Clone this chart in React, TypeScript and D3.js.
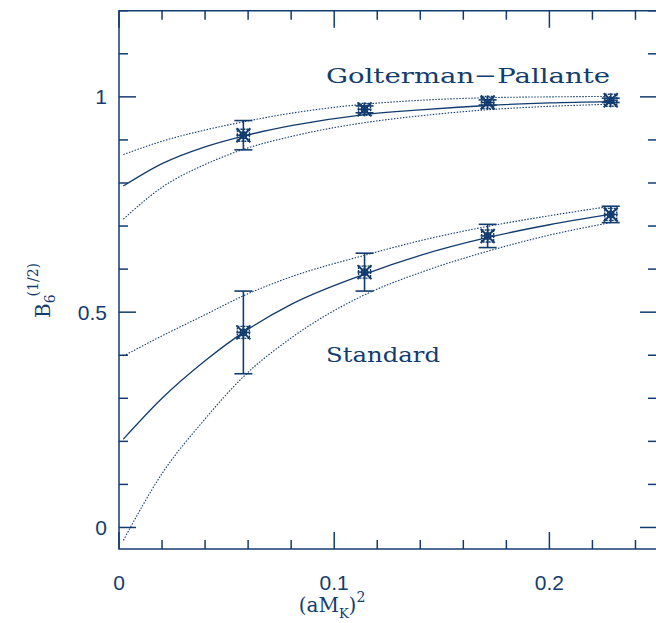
import React from "react";
import * as d3 from "d3";

const C = "#123c6e";

// data points: (aM_K)^2
const xPts = [0.0578, 0.1141, 0.1713, 0.2285];
const gpVal = [0.911, 0.971, 0.987, 0.992];
const gpErr = [0.034, 0.008, 0.006, 0.005];
const stVal = [0.453, 0.593, 0.677, 0.727];
const stErr = [0.096, 0.044, 0.027, 0.019];

// fitted curves
const curveX = [0.002, 0.02, 0.04, 0.0578, 0.08, 0.114, 0.14, 0.171, 0.2, 0.2285];
const gpFit = [0.793, 0.845, 0.884, 0.909, 0.933, 0.959, 0.97, 0.98, 0.986, 0.989];
const gpUp = [0.866, 0.897, 0.923, 0.942, 0.962, 0.983, 0.992, 0.998, 1.0, 1.001];
const gpLo = [0.716, 0.79, 0.843, 0.878, 0.908, 0.94, 0.956, 0.97, 0.978, 0.983];
const stFit = [0.205, 0.3, 0.387, 0.453, 0.518, 0.588, 0.632, 0.673, 0.703, 0.727];
const stUp = [0.398, 0.445, 0.494, 0.538, 0.582, 0.632, 0.666, 0.699, 0.724, 0.746];
const stLo = [-0.03, 0.125, 0.252, 0.35, 0.44, 0.54, 0.592, 0.641, 0.679, 0.708];

const xMajor = [0, 0.1, 0.2];
const xMinor = d3.range(0, 0.2501, 0.02);
const yMajor = [0, 0.5, 1];
const yMinor = d3.range(0, 1.2001, 0.1);

export default function App() {
  const W = 656, H = 623;
  const x = d3.scaleLinear().domain([0, 0.25]).range([119, 657]);
  const y = d3.scaleLinear().domain([-0.05, 1.2]).range([549, 10.75]);
  const line = d3
    .line<[number, number]>()
    .x((d) => x(d[0]))
    .y((d) => y(d[1]))
    .curve(d3.curveMonotoneX);
  const mk = (vals: number[]) => line(curveX.map((cx, i) => [cx, vals[i]] as [number, number])) || "";

  const x0 = x(0), x1 = x(0.25), y0 = y(-0.05), y1 = y(1.2);
  const isMajX = (v: number) => xMajor.some((m) => Math.abs(m - v) < 1e-6);
  const isMajY = (v: number) => yMajor.some((m) => Math.abs(m - v) < 1e-6);

  const marker = (cx: number, cy: number, key: string) => {
    const r = 7;
    return (
      <g key={key} stroke={C} fill="none">
        <rect x={cx - 6} y={cy - 6} width={12} height={12} strokeWidth={1.4} strokeDasharray="2,1" />
        <line x1={cx - r} y1={cy - r} x2={cx + r} y2={cy + r} strokeWidth={2} />
        <line x1={cx - r} y1={cy + r} x2={cx + r} y2={cy - r} strokeWidth={2} />
        <line x1={cx - r} y1={cy} x2={cx + r} y2={cy} strokeWidth={1.6} />
        <line x1={cx} y1={cy - r} x2={cx} y2={cy + r} strokeWidth={1.6} />
        <circle cx={cx} cy={cy} r={3.2} strokeWidth={1.4} />
      </g>
    );
  };

  const errBar = (cx: number, v: number, e: number, key: string) => {
    const yt = y(v + e), yb = y(v - e);
    return (
      <g key={key} stroke={C} strokeWidth={1.6}>
        <line x1={cx} x2={cx} y1={yt} y2={yb} />
        <line x1={cx - 9} x2={cx + 9} y1={yt} y2={yt} />
        <line x1={cx - 9} x2={cx + 9} y1={yb} y2={yb} />
      </g>
    );
  };

  return (
    <svg width={W} height={H} style={{ position: "absolute", left: 0, top: 0 }}>
      <rect width={W} height={H} fill="white" />
      <rect x={x0} y={y1} width={x1 - x0} height={y0 - y1} fill="none" stroke={C} strokeWidth={1.5} />
      {xMinor.map((v, i) => {
        const len = isMajX(v) ? 17 : 9;
        return (
          <g key={"xt" + i} stroke={C} strokeWidth={1.5}>
            <line x1={x(v)} x2={x(v)} y1={y0} y2={y0 - len} />
            <line x1={x(v)} x2={x(v)} y1={y1} y2={y1 + len} />
          </g>
        );
      })}
      {yMinor.map((v, i) => {
        const len = isMajY(v) ? 17 : 9;
        return (
          <g key={"yt" + i} stroke={C} strokeWidth={1.5}>
            <line x1={x0} x2={x0 + len} y1={y(v)} y2={y(v)} />
            <line x1={x1} x2={x1 - len} y1={y(v)} y2={y(v)} />
          </g>
        );
      })}
      {xMajor.map((v) => (
        <text key={"xl" + v} x={x(v)} y={590} textAnchor="middle" fontFamily="Liberation Sans, sans-serif" fontSize={21} fill={C}>
          {v === 0 ? "0" : v.toFixed(1)}
        </text>
      ))}
      {yMajor.map((v) => (
        <text key={"yl" + v} x={107} y={y(v) + 7.5} textAnchor="end" fontFamily="Liberation Sans, sans-serif" fontSize={21} fill={C}>
          {v === 0 ? "0" : v === 1 ? "1" : v.toFixed(1)}
        </text>
      ))}
      <text x={332} y={612} textAnchor="middle" fontFamily="DejaVu Serif, serif" fontSize={20} fill={C}>
        (aM<tspan fontSize={13} dy={6}>K</tspan>
        <tspan dy={-6}>)</tspan>
        <tspan dy={-10} fontSize={14}>2</tspan>
      </text>
      <g transform="translate(50,318) rotate(-90)">
        <text x={0} y={0} fontFamily="DejaVu Serif, serif" fontSize={20} fill={C}>
          B<tspan fontSize={14} dy={5}>6</tspan>
          <tspan fontSize={14} dy={-17} dx={-2}>(1/2)</tspan>
        </text>
      </g>
      <g fill="none" stroke={C}>
        <path d={mk(gpFit)} strokeWidth={1.3} />
        <path d={mk(gpUp)} strokeWidth={1.1} strokeDasharray="1.5,1.5" />
        <path d={mk(gpLo)} strokeWidth={1.1} strokeDasharray="1.5,1.5" />
        <path d={mk(stFit)} strokeWidth={1.3} />
        <path d={mk(stUp)} strokeWidth={1.1} strokeDasharray="1.5,1.5" />
        <path d={mk(stLo)} strokeWidth={1.1} strokeDasharray="1.5,1.5" />
      </g>
      {xPts.map((v, i) => errBar(x(v), gpVal[i], gpErr[i], "ge" + i))}
      {xPts.map((v, i) => errBar(x(v), stVal[i], stErr[i], "se" + i))}
      {xPts.map((v, i) => marker(x(v), y(gpVal[i]), "gm" + i))}
      {xPts.map((v, i) => marker(x(v), y(stVal[i]), "sm" + i))}
      <text x={326} y={83} fontFamily="DejaVu Serif, serif" fontSize={21} fill={C} textLength={284} lengthAdjust="spacingAndGlyphs">
        Golterman−Pallante
      </text>
      <text x={326} y={362} fontFamily="DejaVu Serif, serif" fontSize={21} fill={C} textLength={114} lengthAdjust="spacingAndGlyphs">
        Standard
      </text>
    </svg>
  );
}
